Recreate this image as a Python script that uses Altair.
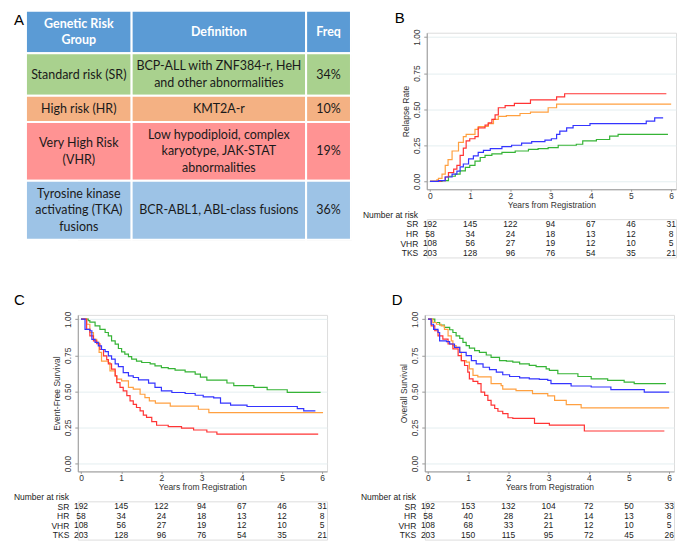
import altair as alt
import pandas as pd

GROUPS = ["SR", "HR", "VHR", "TKS"]
LINE_COLORS = ["#36b436", "#ffa040", "#ff3434", "#3434ff"]
YEARS = [0, 1, 2, 3, 4, 5, 6]
Y_TICKS = [0, 0.25, 0.5, 0.75, 1.0]

# ---------------- Panel A: table ----------------
TABLE_HEADER = ["Genetic Risk\nGroup", "Definition", "Freq"]
TABLE_GROUP = ["Standard risk (SR)", "High risk (HR)", "Very High Risk\n(VHR)",
               "Tyrosine kinase\nactivating (TKA)\nfusions"]
TABLE_DEFINITION = ["BCP-ALL with ZNF384-r, HeH\nand other abnormalities", "KMT2A-r",
                    "Low hypodiploid, complex\nkaryotype, JAK-STAT\nabnormalities",
                    "BCR-ABL1, ABL-class fusions"]
TABLE_FREQ = ["34%", "10%", "19%", "36%"]
ROW_FILLS = ["#5b9bd5", "#a9d18e", "#f4b183", "#ff9393", "#9dc3e6"]

# ---------------- Panel B: relapse rate (time, value) ----------------
B_SR = [(0, 0), (0.30, 0.005), (0.46, 0.035), (0.63, 0.05), (0.75, 0.073), (0.88, 0.096), (0.99, 0.11),
        (1.12, 0.14), (1.25, 0.165), (1.37, 0.18), (1.54, 0.19), (1.79, 0.2), (2.12, 0.21), (2.45, 0.222),
        (2.69, 0.227), (2.94, 0.233), (3.19, 0.25), (3.64, 0.257), (3.8, 0.28), (4.14, 0.29),
        (4.47, 0.313), (4.68, 0.325), (5.92, 0.325)]
B_HR = [(0, 0), (0.17, 0.01), (0.21, 0.02), (0.3, 0.05), (0.38, 0.11), (0.45, 0.15), (0.55, 0.21),
        (0.71, 0.27), (0.83, 0.31), (0.9, 0.325), (1.12, 0.36), (1.2, 0.38), (1.45, 0.40), (1.58, 0.43),
        (1.7, 0.45), (1.9, 0.455), (2.24, 0.47), (2.5, 0.48), (2.94, 0.51), (3.15, 0.535), (6.0, 0.535)]
B_VHR = [(0, 0), (0.26, 0.005), (0.38, 0.03), (0.46, 0.06), (0.59, 0.085), (0.67, 0.11), (0.75, 0.18),
         (0.83, 0.23), (0.9, 0.28), (0.99, 0.295), (1.12, 0.31), (1.2, 0.37), (1.37, 0.39), (1.45, 0.405),
         (1.54, 0.43), (1.62, 0.46), (1.7, 0.51), (1.87, 0.525), (2.1, 0.54), (2.5, 0.565), (3.15, 0.585),
         (3.35, 0.607), (5.88, 0.607)]
B_TKS = [(0, 0), (0.21, 0.005), (0.38, 0.03), (0.55, 0.05), (0.67, 0.07), (0.75, 0.1), (0.83, 0.12),
         (0.96, 0.155), (1.08, 0.177), (1.2, 0.2), (1.33, 0.215), (1.5, 0.227), (1.79, 0.24), (2.03, 0.25),
         (2.28, 0.265), (2.53, 0.275), (2.86, 0.285), (3.02, 0.295), (3.15, 0.325), (3.23, 0.348),
         (3.4, 0.37), (3.56, 0.387), (3.98, 0.40), (5.38, 0.417), (5.59, 0.44), (5.8, 0.44)]

# ---------------- Panel C: event-free survival ----------------
C_SR = [(0, 1), (0.18, 0.99), (0.22, 0.98), (0.35, 0.954), (0.47, 0.93), (0.6, 0.908), (0.68, 0.885),
        (0.76, 0.85), (0.85, 0.827), (0.93, 0.797), (1.01, 0.774), (1.09, 0.758), (1.18, 0.74),
        (1.26, 0.723), (1.38, 0.71), (1.51, 0.7), (1.72, 0.69), (1.84, 0.677), (2.0, 0.665), (2.17, 0.658),
        (2.34, 0.647), (2.59, 0.635), (2.84, 0.619), (2.97, 0.598), (3.13, 0.578), (3.63, 0.558),
        (3.8, 0.54), (4.3, 0.527), (4.63, 0.511), (5.13, 0.493), (5.96, 0.493)]
C_HR = [(0, 1), (0.14, 0.965), (0.22, 0.908), (0.31, 0.86), (0.39, 0.84), (0.45, 0.77), (0.51, 0.71),
        (0.68, 0.7), (0.72, 0.642), (0.85, 0.607), (0.89, 0.584), (1.01, 0.573), (1.18, 0.527),
        (1.3, 0.515), (1.47, 0.48), (1.59, 0.457), (1.7, 0.434), (1.85, 0.418), (2.22, 0.398),
        (2.92, 0.376), (3.18, 0.353), (6.02, 0.353)]
C_VHR = [(0, 1), (0.14, 0.93), (0.22, 0.885), (0.31, 0.85), (0.39, 0.83), (0.47, 0.79), (0.56, 0.746),
         (0.64, 0.72), (0.68, 0.69), (0.76, 0.654), (0.85, 0.607), (0.89, 0.56), (0.97, 0.527),
         (1.05, 0.503), (1.14, 0.47), (1.22, 0.434), (1.3, 0.41), (1.38, 0.388), (1.47, 0.365),
         (1.55, 0.335), (1.63, 0.32), (1.76, 0.29), (1.88, 0.265), (2.17, 0.255), (2.5, 0.245),
         (2.8, 0.232), (3.13, 0.218), (3.38, 0.203), (5.9, 0.203)]
C_TKS = [(0, 1), (0.1, 0.93), (0.22, 0.92), (0.27, 0.86), (0.35, 0.84), (0.43, 0.815), (0.51, 0.79),
         (0.6, 0.775), (0.68, 0.746), (0.76, 0.723), (0.85, 0.69), (0.93, 0.672), (1.05, 0.63),
         (1.18, 0.607), (1.3, 0.596), (1.43, 0.58), (1.68, 0.557), (1.84, 0.527), (2.0, 0.503),
         (2.26, 0.492), (2.59, 0.485), (2.84, 0.473), (3.04, 0.462), (3.3, 0.455), (3.47, 0.418),
         (3.72, 0.404), (4.13, 0.395), (5.38, 0.38), (5.54, 0.365), (5.83, 0.365)]

# ---------------- Panel D: overall survival ----------------
D_SR = [(0, 1), (0.17, 0.977), (0.29, 0.96), (0.41, 0.943), (0.54, 0.927), (0.62, 0.908), (0.7, 0.885),
        (0.79, 0.867), (0.87, 0.84), (0.95, 0.817), (1.03, 0.8), (1.16, 0.782), (1.28, 0.77),
        (1.45, 0.752), (1.57, 0.736), (1.78, 0.713), (1.95, 0.709), (2.11, 0.702), (2.28, 0.69),
        (2.52, 0.68), (2.69, 0.672), (2.94, 0.656), (3.02, 0.645), (3.23, 0.622), (3.73, 0.603),
        (4.06, 0.587), (4.47, 0.576), (4.88, 0.564), (5.13, 0.553), (5.92, 0.553)]
D_HR = [(0, 1), (0.12, 0.977), (0.21, 0.965), (0.33, 0.954), (0.41, 0.93), (0.5, 0.885), (0.58, 0.85),
        (0.62, 0.817), (0.7, 0.805), (0.79, 0.77), (0.83, 0.713), (0.95, 0.702), (1.03, 0.656),
        (1.12, 0.61), (1.24, 0.6), (1.57, 0.553), (1.82, 0.54), (1.86, 0.515), (2.19, 0.505),
        (2.6, 0.484), (2.98, 0.468), (3.15, 0.438), (3.44, 0.408), (3.81, 0.385), (6.0, 0.385)]
D_VHR = [(0, 1), (0.08, 0.954), (0.17, 0.92), (0.25, 0.885), (0.37, 0.862), (0.5, 0.828), (0.62, 0.794),
         (0.75, 0.748), (0.83, 0.713), (0.91, 0.679), (0.99, 0.633), (1.03, 0.587), (1.12, 0.569),
         (1.24, 0.553), (1.32, 0.495), (1.41, 0.472), (1.49, 0.438), (1.57, 0.404), (1.66, 0.381),
         (1.74, 0.362), (1.86, 0.346), (1.99, 0.317), (2.11, 0.312), (2.65, 0.278), (3.02, 0.266),
         (3.89, 0.225), (5.88, 0.225)]
D_TKS = [(0, 1), (0.08, 0.965), (0.14, 0.93), (0.25, 0.908), (0.29, 0.85), (0.46, 0.844), (0.54, 0.828),
         (0.66, 0.805), (0.79, 0.77), (0.95, 0.748), (1.08, 0.713), (1.2, 0.69), (1.37, 0.667),
         (1.53, 0.651), (1.7, 0.633), (1.86, 0.615), (2.03, 0.603), (2.28, 0.594), (2.52, 0.587),
         (2.77, 0.583), (2.98, 0.576), (3.06, 0.553), (3.56, 0.537), (4.06, 0.53), (4.55, 0.512),
         (5.38, 0.495), (6.0, 0.495)]

# ---------------- Numbers at risk ----------------
RISK_BC_SR = [192, 145, 122, 94, 67, 46, 31]
RISK_BC_HR = [58, 34, 24, 18, 13, 12, 8]
RISK_BC_VHR = [108, 56, 27, 19, 12, 10, 5]
RISK_BC_TKS = [203, 128, 96, 76, 54, 35, 21]
RISK_D_SR = [192, 153, 132, 104, 72, 50, 33]
RISK_D_HR = [58, 40, 28, 21, 14, 13, 8]
RISK_D_VHR = [108, 68, 33, 21, 12, 10, 5]
RISK_D_TKS = [203, 150, 115, 95, 72, 45, 26]

# ---------------- layout / style ----------------
FONT = "Liberation Sans"
TABLE_FONT = "Lato"
COL_WIDTHS = [106, 175, 45]
ROW_PAD = 0.6
LINE_PX = 16.4
LEFT_EXT = 64         # common left extent of every panel (letters / "Number at risk")
SHIFT_X = LEFT_EXT - 12   # part of the table drawn left of panel A's origin
SHIFT_Y = 22          # part of the table drawn above panel A's origin
PLOT_W, PLOT_H, RISK_STEP = 250, 157, 9.6
X_DOM = [-0.08, 6.12]
Y_DOM = [-0.055, 1.03]
AXIS_GREY = "#9a9a9a"
TEXT_GREY = "#333333"


def letter_title(letter, dx, offset):
    return alt.TitleParams(letter, anchor="start", frame="group", dx=dx, offset=offset,
                           fontSize=15, font=FONT, fontWeight="normal", color="black")


def table_panel():
    rows_text = [TABLE_HEADER] + [list(r) for r in zip(TABLE_GROUP, TABLE_DEFINITION, TABLE_FREQ)]
    cells, lines = [], []
    y = 0.0
    for r, row in enumerate(rows_text):
        n = max(c.count("\n") + 1 for c in row)
        h = n + ROW_PAD
        x = 0
        for txt, w in zip(row, COL_WIDTHS):
            cells.append(dict(row=str(r), x0=x, x1=x + w, y0=y, y1=y + h))
            parts = txt.split("\n")
            k = len(parts)
            for i, part in enumerate(parts):
                lines.append(dict(xm=x + w / 2, ym=y + h / 2 + (i - (k - 1) / 2), text=part,
                                  header=(r == 0)))
            x += w
        y += h
    total = y
    table_w = sum(COL_WIDTHS)
    cdf = pd.DataFrame(cells)
    ldf = pd.DataFrame(lines)
    xsc = alt.Scale(domain=[SHIFT_X, table_w], nice=False, zero=False)
    ysc = alt.Scale(domain=[SHIFT_Y / LINE_PX, total], nice=False, zero=False, reverse=True)
    rects = alt.Chart(cdf).mark_rect(stroke="white", strokeWidth=2).encode(
        x=alt.X("x0:Q", scale=xsc, axis=None), x2="x1:Q",
        y=alt.Y("y0:Q", scale=ysc, axis=None), y2="y1:Q",
        color=alt.Color("row:N", scale=alt.Scale(domain=[str(i) for i in range(5)], range=ROW_FILLS),
                        legend=None))
    txt_kw = dict(font=TABLE_FONT, fontSize=12.5, baseline="middle", align="center")
    enc = dict(x=alt.X("xm:Q", scale=xsc, axis=None), y=alt.Y("ym:Q", scale=ysc, axis=None),
               text="text:N")
    base = alt.Chart(ldf)
    head = base.transform_filter("datum.header").mark_text(
        color="white", fontWeight="bold", **txt_kw).encode(**enc)
    body = base.transform_filter("!datum.header").mark_text(
        color="#1a1a1a", **txt_kw).encode(**enc)
    return alt.layer(rects, head, body).properties(
        width=table_w - SHIFT_X, height=total * LINE_PX - SHIFT_Y,
        title=letter_title("A", -LEFT_EXT, -18))


def km_panel(curves, risk, ytitle, letter, dx, toff):
    recs = []
    for g, pts in zip(GROUPS, curves):
        for t, v in pts:
            recs.append(dict(group=g, t=t, v=v))
    df = pd.DataFrame(recs)
    xs = alt.Scale(domain=X_DOM, nice=False, zero=False)
    ys = alt.Scale(domain=Y_DOM, nice=False, zero=False)
    lines = alt.Chart(df).mark_line(interpolate="step-after", strokeWidth=1.2).encode(
        x=alt.X("t:Q", scale=xs, axis=alt.Axis(
            values=YEARS, format="d", title="Years from Registration", grid=False,
            domainColor=AXIS_GREY, tickColor=AXIS_GREY, tickSize=2, labelPadding=0,
            labelFontSize=8.5, labelColor=TEXT_GREY, labelFont=FONT,
            titleFontSize=8.5, titleFontWeight="normal", titleColor=TEXT_GREY, titleFont=FONT,
            titlePadding=1)),
        y=alt.Y("v:Q", scale=ys, axis=alt.Axis(
            values=Y_TICKS, format=".2f", title=ytitle, grid=True, gridColor="#e4eef0",
            domainColor=AXIS_GREY, tickColor=AXIS_GREY, tickSize=3, labelPadding=2,
            labelAngle=-90, labelAlign="center", labelBaseline="bottom",
            labelFontSize=8.5, labelColor=TEXT_GREY, labelFont=FONT,
            titleFontSize=8.5, titleFontWeight="normal", titleColor=TEXT_GREY, titleFont=FONT,
            titlePadding=2)),
        color=alt.Color("group:N", scale=alt.Scale(domain=GROUPS, range=LINE_COLORS), legend=None),
    ).properties(width=PLOT_W, height=PLOT_H, title=letter_title(letter, dx, toff))

    rrecs = []
    for g, vals in zip(GROUPS, risk):
        for t, n in zip(YEARS, vals):
            rrecs.append(dict(group=g, t=t, n=n))
    rdf = pd.DataFrame(rrecs)
    risk_chart = alt.Chart(rdf).mark_text(fontSize=8.5, font=FONT, color="#222222",
                                          baseline="middle").encode(
        x=alt.X("t:Q", scale=xs, axis=None),
        y=alt.Y("group:N", scale=alt.Scale(type="point", domain=GROUPS, padding=0.5),
                axis=alt.Axis(title=None, domain=False, ticks=False, labelPadding=9,
                              labelFontSize=8.5, labelFont=FONT, labelColor="#222222",
                              labelAlign="right")),
        text="n:Q",
    ).properties(
        width=PLOT_W, height=RISK_STEP * len(GROUPS),
        title=alt.TitleParams("Number at risk", anchor="start", frame="group", dx=-LEFT_EXT,
                              offset=0, fontSize=8.5, font=FONT, fontWeight="normal",
                              color="#222222"))
    return alt.vconcat(lines, risk_chart, spacing=0)


panel_a = table_panel()
panel_b = km_panel([B_SR, B_HR, B_VHR, B_TKS], [RISK_BC_SR, RISK_BC_HR, RISK_BC_VHR, RISK_BC_TKS],
                   "Relapse Rate", "B", -32, 3)
panel_c = km_panel([C_SR, C_HR, C_VHR, C_TKS], [RISK_BC_SR, RISK_BC_HR, RISK_BC_VHR, RISK_BC_TKS],
                   "Event-Free Survival", "C", -LEFT_EXT, 3)
panel_d = km_panel([D_SR, D_HR, D_VHR, D_TKS], [RISK_D_SR, RISK_D_HR, RISK_D_VHR, RISK_D_TKS],
                   "Overall Survival", "D", -33, 3)

top = alt.concat(panel_a, panel_b, columns=2, spacing=9, align="none").resolve_scale(color="independent")
bottom = alt.concat(panel_c, panel_d, columns=2, spacing=32, align="none").resolve_scale(color="independent")
chart = alt.concat(top, bottom, columns=1, spacing=34, align="none").resolve_scale(
    color="independent"
).properties(
    padding={"left": 5, "top": 0, "right": 0, "bottom": 0}
).configure_view(stroke=None).configure(background="white")

chart.save("out.html", embed_options={"renderer": "svg", "actions": False})
